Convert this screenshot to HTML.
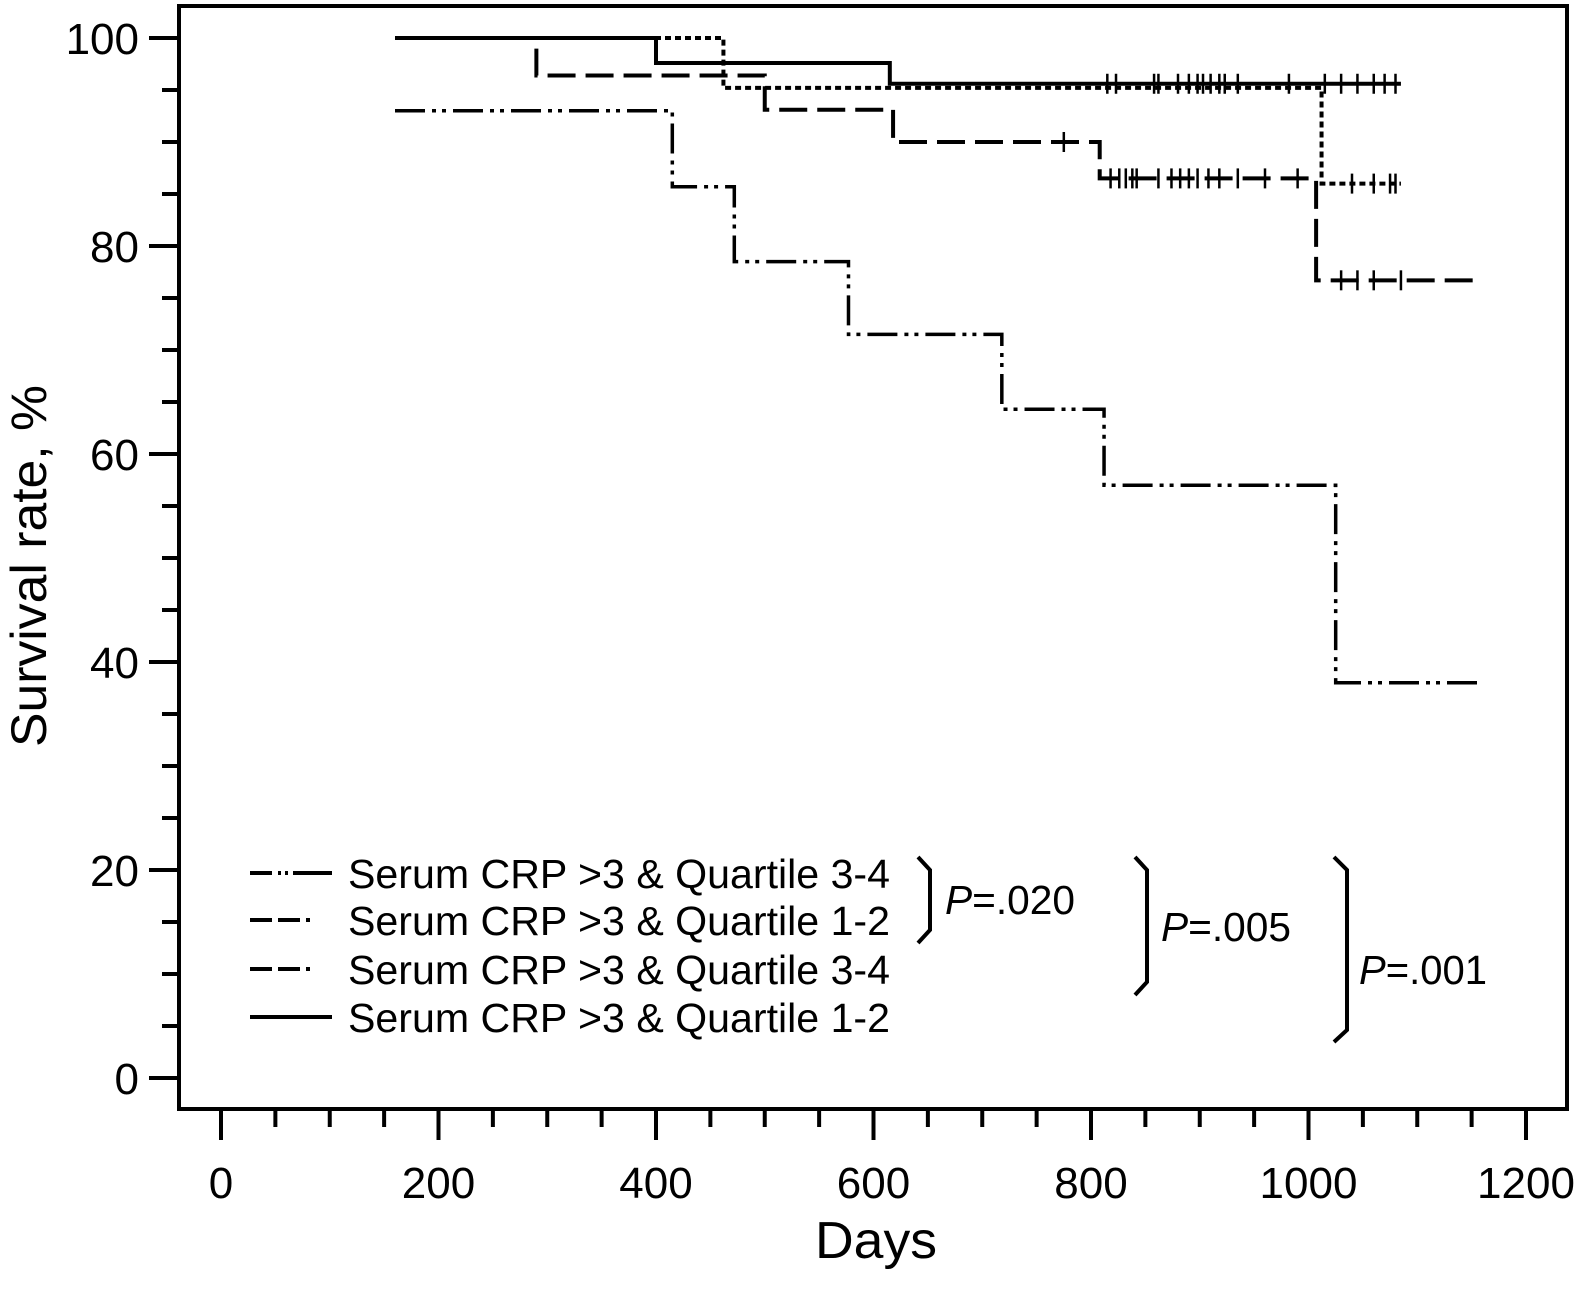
<!DOCTYPE html>
<html><head><meta charset="utf-8"><style>
html,body{margin:0;padding:0;background:#fff;}
svg{display:block;font-family:"Liberation Sans",Arial,sans-serif;}
</style></head><body>
<svg id="chart" width="1583" height="1292" viewBox="0 0 1583 1292">
<rect x="179" y="6" width="1388" height="1103" fill="none" stroke="#000" stroke-width="4"/>
<g id="yaxis"></g>
<g id="xaxis"></g>
<g id="series"></g>
<text x="46" y="566" font-size="50" text-anchor="middle" textLength="362" lengthAdjust="spacingAndGlyphs" transform="rotate(-90 46 566)">Survival rate, %</text>
<text x="876" y="1258" font-size="52" text-anchor="middle" textLength="122" lengthAdjust="spacingAndGlyphs">Days</text>
<g id="legend"></g>
<g fill="none" stroke="#000" stroke-width="4">
<path d="M918,857 L930,870 L930,930 L918,943"/>
<path d="M1135,857 L1147,870 L1147,982 L1135,995"/>
<path d="M1334,857 L1347,870 L1347,1030 L1334,1042"/>
</g>
<text x="945" y="914" font-size="41" textLength="130" lengthAdjust="spacingAndGlyphs"><tspan font-style="italic">P</tspan>=.020</text>
<text x="1161" y="941" font-size="41" textLength="130" lengthAdjust="spacingAndGlyphs"><tspan font-style="italic">P</tspan>=.005</text>
<text x="1359" y="984" font-size="41" textLength="128" lengthAdjust="spacingAndGlyphs"><tspan font-style="italic">P</tspan>=.001</text>
</svg>
<script>
const yTicks=[0,20,40,60,80,100];
const xTicks=[0,200,400,600,800,1000,1200];
const legendLabels=["Serum CRP >3 & Quartile 3-4","Serum CRP >3 & Quartile 1-2","Serum CRP >3 & Quartile 3-4","Serum CRP >3 & Quartile 1-2"];
const s1Days=[160,415,472,577,718,812,1025,1160];
const s1Vals=[93,85.7,78.5,71.5,64.3,57,38,38];
const s1Cens=[];
const s2Days=[160,290,500,618,808,1007,1160];
const s2Vals=[100,96.4,93.1,90,86.5,76.7,76.7];
const s2Cens=[775,818,826,832,838,842,862,874,882,890,898,908,918,935,960,990,1030,1045,1060,1085];
const s3Days=[160,462,1012,1085];
const s3Vals=[100,95.2,86,86];
const s3Cens=[1040,1060,1075,1080];
const s4Days=[160,400,615,1085];
const s4Vals=[100,97.6,95.6,95.6];
const s4Cens=[815,823,858,862,880,890,898,903,910,918,923,935,982,1015,1030,1045,1060,1070,1080];

const X=d=>221+d*1.0875;
const Y=v=>1078-v*10.4;
const NS="http://www.w3.org/2000/svg";
function mk(t,a,p){const e=document.createElementNS(NS,t);for(const k in a)e.setAttribute(k,a[k]);p.appendChild(e);return e;}
const ya=document.getElementById('yaxis'),xa=document.getElementById('xaxis');
for(let v=0;v<=100;v+=5){const maj=v%20===0;
 const l=mk('line',{x1:maj?149:162,x2:179,y1:Y(v),y2:Y(v),stroke:'#000','stroke-width':4},ya);
 
 }
yTicks.forEach(v=>{const t=mk('text',{x:139,y:Y(v)+16,'font-size':44,'text-anchor':'end'},ya);t.textContent=v;
 
 });
for(let d=0;d<=1200;d+=50){const maj=d%200===0;
 const l=mk('line',{x1:X(d),x2:X(d),y1:1109,y2:maj?1140:1127,stroke:'#000','stroke-width':4},xa);
 
 }
xTicks.forEach(d=>{const t=mk('text',{x:X(d),y:1198,'font-size':44,'text-anchor':'middle'},xa);t.textContent=d;
 
 });
const dashes=["30,7,4,6,4,7","28,10","6,4",""];
const widths=[3.5,4,4,4];
const sg=document.getElementById('series');
function step(days,vals){let d='M'+X(days[0])+','+Y(vals[0]);
 for(let i=1;i<days.length;i++){d+=' L'+X(days[i])+','+Y(vals[i-1])+' L'+X(days[i])+','+Y(vals[i]);}return d;}
function valAt(days,vals,x){let v=vals[0];for(let i=0;i<days.length;i++)if(days[i]<=x)v=vals[i];return v;}
[[s1Days,s1Vals,s1Cens],[s2Days,s2Vals,s2Cens],[s3Days,s3Vals,s3Cens],[s4Days,s4Vals,s4Cens]].forEach((s,i)=>{
 const p=mk('path',{d:step(s[0],s[1]),fill:'none',stroke:'#000','stroke-width':widths[i],'stroke-dasharray':dashes[i]},sg);
 
 
 s[2].forEach(c=>{const v=valAt(s[0],s[1],c);
  const m=mk('line',{x1:X(c),x2:X(c),y1:Y(v)-10,y2:Y(v)+10,stroke:'#000','stroke-width':2.5},sg);
  
  });
});
const lg=document.getElementById('legend');
const rowY=[873,920,969,1017];
legendLabels.forEach((lab,i)=>{
 const l=mk('line',{x1:250,x2:332,y1:rowY[i],y2:rowY[i],stroke:'#000','stroke-width':4,'stroke-dasharray':['22,6,3,4,3,5,40','22,6,22,6,4','22,6,22,6,4',''][i]},lg);
 
 
 const t=mk('text',{x:348,y:rowY[i]+15,'font-size':41,textLength:542,lengthAdjust:'spacingAndGlyphs'},lg);t.textContent=lab;
 
 
});
</script>
</body></html>
